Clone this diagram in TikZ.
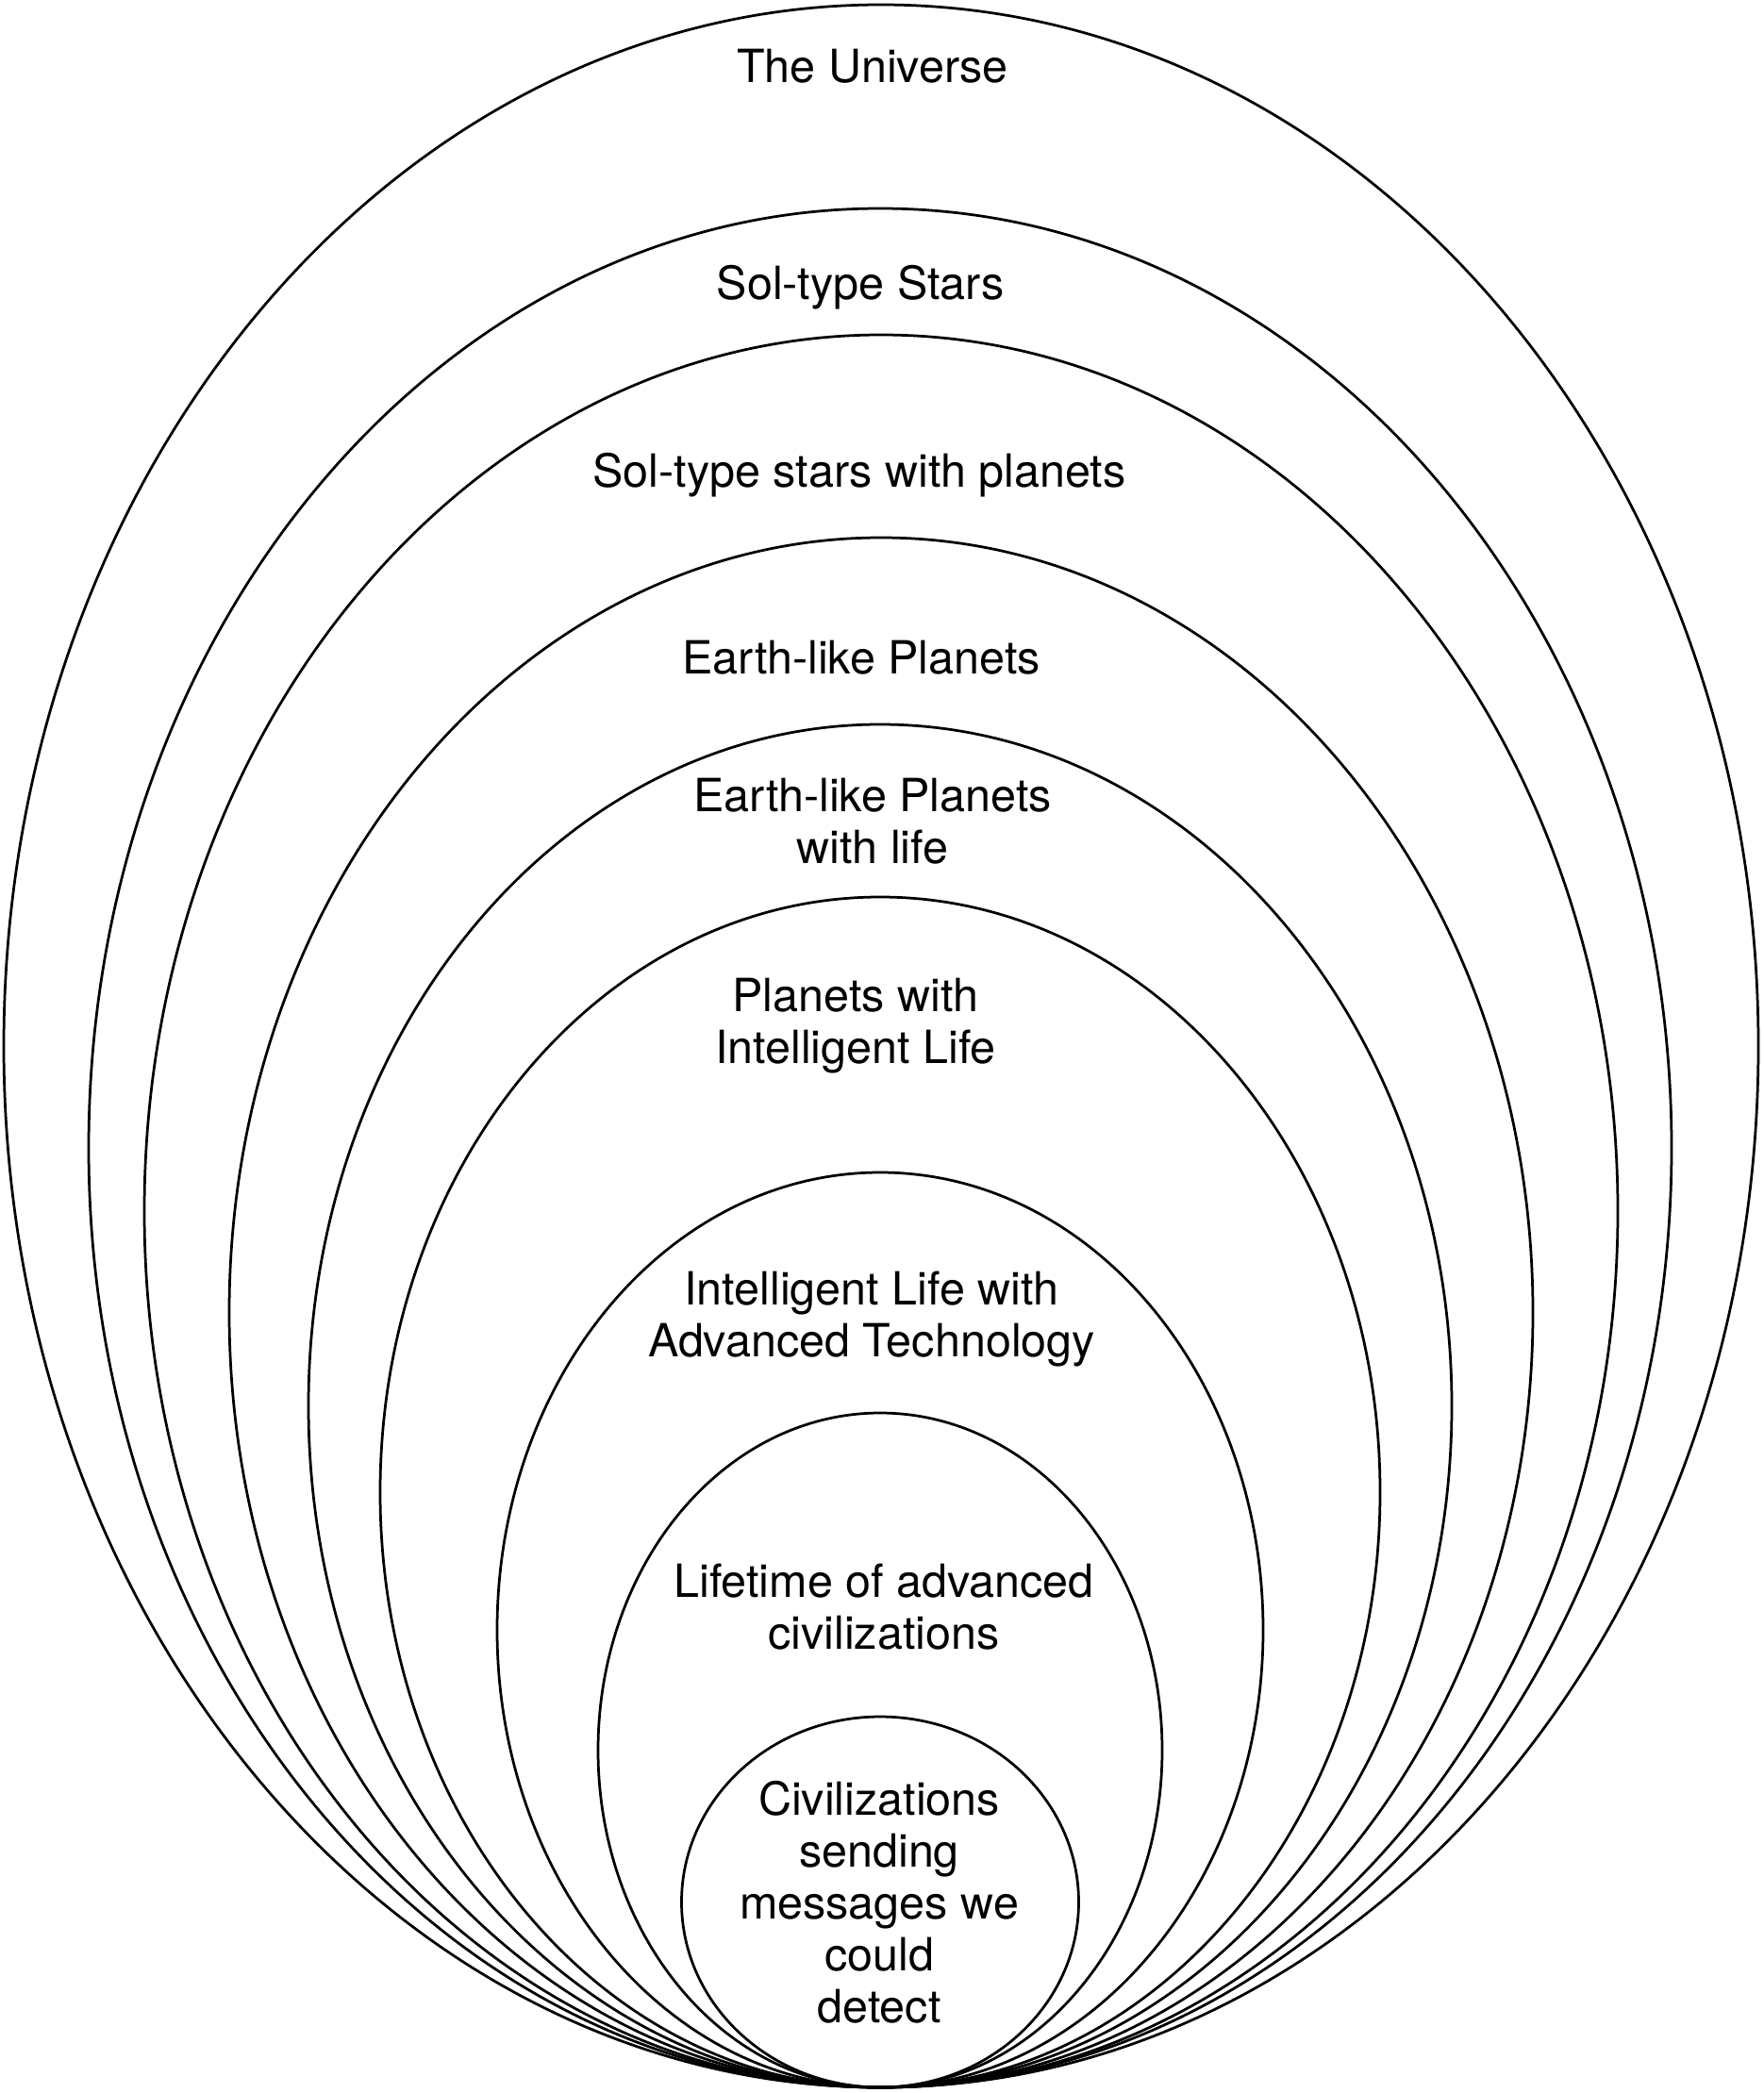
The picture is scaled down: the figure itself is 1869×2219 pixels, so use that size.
\documentclass[tikz,border=0pt]{standalone}
\usepackage{fontspec}
\setmainfont{TeX Gyre Heros}
\begin{document}
\begin{tikzpicture}[x=0.4pt,y=-0.4pt,
  ring/.style={line width=1.1pt, black},
  lbl/.style={anchor=north, inner sep=0pt, align=center, font=\fontsize{19.4}{22}\selectfont}]
\useasboundingbox (0,0) rectangle (1869,2219);
\fill[white] (0,0) rectangle (1869,2219);
% nested ellipses, all touching at the bottom point (934,2213)
\draw[ring] (934,1109)   ellipse [x radius=930, y radius=1104];
\draw[ring] (933,1217)   ellipse [x radius=839, y radius=996];
\draw[ring] (934,1284)   ellipse [x radius=781, y radius=929];
\draw[ring] (934,1391.5) ellipse [x radius=691, y radius=821.5];
\draw[ring] (933,1490.5) ellipse [x radius=606, y radius=722.5];
\draw[ring] (933,1582)   ellipse [x radius=530, y radius=631];
\draw[ring] (933,1728)   ellipse [x radius=406, y radius=485];
\draw[ring] (933,1855.5) ellipse [x radius=299, y radius=357.5];
\draw[ring] (933,2016.5) ellipse [x radius=210.5, y radius=196.5];
% labels
\node[lbl] (universe) at (925,52)   {The Universe};
\node[lbl] (soltype)  at (912,281)  {Sol-type Stars};
\node[lbl] (solplan)  at (911,480)  {Sol-type stars with planets};
\node[lbl] (earth)    at (913,679)  {Earth-like Planets};
\node[lbl] (earthlife) at (925,825) {Earth-like Planets\\with life};
\node[lbl] (intel)    at (907,1037) {Planets with\\Intelligent Life};
\node[lbl] (tech)     at (924,1347) {Intelligent Life with\\Advanced Technology};
\node[lbl] (lifetime) at (937,1657) {Lifetime of advanced\\civilizations};
\node[lbl] (civ)      at (932,1888) {Civilizations\\sending\\messages we\\could\\detect};
\end{tikzpicture}
\end{document}
